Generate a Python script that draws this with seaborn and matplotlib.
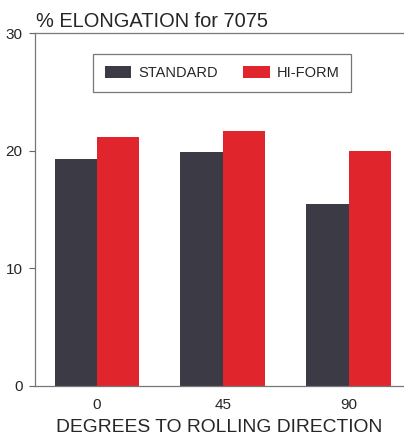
import matplotlib
matplotlib.use("Agg")
import matplotlib.pyplot as plt
import pandas as pd
import seaborn as sns

# dados
angulos = ["0", "45", "90"]
standard = [19.3, 19.9, 15.5]
hi_form = [21.2, 21.7, 20.0]

df = pd.DataFrame({
    "angulo": angulos * 2,
    "valor": standard + hi_form,
    "serie": ["STANDARD"] * 3 + ["HI-FORM"] * 3,
})

sns.set_style("white")
plt.rcParams["font.family"] = ["Liberation Sans", "DejaVu Sans"]

cores = {"STANDARD": "#3b3a45", "HI-FORM": "#e0262c"}

fig = plt.figure(figsize=(4.04, 4.36), dpi=100)
ax = fig.add_axes([0.0866, 0.1147, 0.9134, 0.8096])

sns.barplot(data=df, x="angulo", y="valor", hue="serie", palette=cores,
            width=0.67, saturation=1, ax=ax, edgecolor="none")

ax.set_ylim(0, 30)
ax.set_xlim(-0.49, 2.44)
ax.set_yticks([0, 10, 20, 30])
ax.tick_params(axis="y", direction="out", length=4, width=0.8, color="#666666",
               labelsize=11, pad=5, left=True)
ax.tick_params(axis="x", length=0, labelsize=11, pad=9)

for s in ["left", "top", "bottom"]:
    ax.spines[s].set_color("#777777")
    ax.spines[s].set_linewidth(0.9)
ax.spines["right"].set_visible(False)

ax.set_ylabel("")
ax.set_xlabel("DEGREES TO ROLLING DIRECTION", fontsize=13.9, labelpad=5)
fig.text(0.09, 0.938, "% ELONGATION for 7075", fontsize=14.4, ha="left", va="baseline")

leg = ax.legend(loc="upper left", bbox_to_anchor=(0.157, 0.94),
                ncol=2, fontsize=10.5, frameon=True, fancybox=False,
                handlelength=1.8, handleheight=0.85, handletextpad=0.5,
                borderpad=0.8, borderaxespad=0, columnspacing=1.75, title=None)
leg.get_frame().set_edgecolor("#555555")
leg.get_frame().set_linewidth(0.9)

fig.savefig("out.png", dpi=100)
